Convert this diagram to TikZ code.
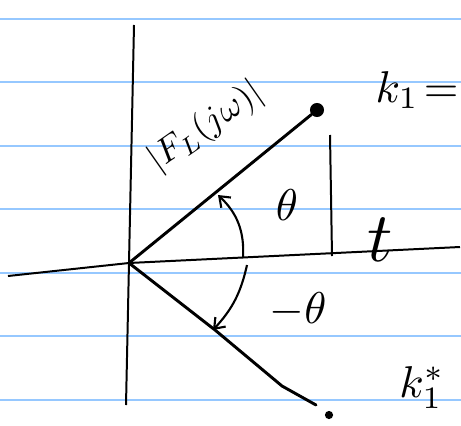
\documentclass[tikz,border=0pt]{standalone}
\usetikzlibrary{arrows.meta}
\definecolor{ruleblue}{RGB}{150,200,255}

\begin{document}
\begin{tikzpicture}[
    x=0.03cm, y=-0.03cm,
    ruling/.style={draw=ruleblue, line width=1.5pt},
    axis/.style={line width=1.7pt},
    ray/.style={line width=2.5pt, line cap=round, line join=round},
    angarrow/.style={line width=1.8pt, -{Straight Barb[length=8pt, width=12pt]}},
    pole/.style={circle, fill=black, inner sep=0pt},
    hand/.style={scale=3.8}
]
\useasboundingbox (0,0) rectangle (461,425);

% Ruled paper
\foreach \yy in {19,82,146,209,273,336,400}
    \draw[ruling] (0,\yy) -- (461,\yy);

% Axes
\coordinate (o) at (129,263);
\coordinate (xl) at (8,276);
\coordinate (xr) at (460,247);
\coordinate (yt) at (134,25);
\coordinate (yb) at (126,405);
\draw[axis] (xl) -- (o) -- (xr);
\draw[axis] (yt) -- (yb);

% Poles
\node[pole, minimum size=12pt] (k1) at (317,110) {};
\node[pole, minimum size=7pt] (k1s) at (329,415) {};
\coordinate (m1) at (215,330);
\coordinate (m2) at (282,386);
\coordinate (m3) at (316,405);

% Rays from origin
\draw[ray] (o) -- (k1);
\draw[ray] (o) -- (m1) -- (m2) -- (m3);

% Projection of k1 on the real axis
\coordinate (pt) at (330,135);
\coordinate (pb) at (332,256);
\draw[axis] (pt) -- (pb);

% Angle arrows
\coordinate (a1) at (243,258);
\coordinate (a2) at (218,195);
\coordinate (b1) at (247,265);
\coordinate (b2) at (213,330);
\draw[angarrow] (a1) to[bend right=25] (a2);
\draw[angarrow] (b1) to[bend left=15] (b2);

% Labels
\node[scale=3, rotate=35] (mag) at (206,127) {$|F_L(j\omega)|$};
\node[hand, anchor=west] (k1lbl) at (360,90) {$k_1 \!=$};
\node[hand] (k1slbl) at (422,388) {$k_1^{*}$};
\node[hand] (th) at (287,205) {$\theta$};
\node[hand] (mth) at (298,310) {$-\theta$};
\node[scale=6] (tt) at (380,240) {$t$};

\end{tikzpicture}
\end{document}
